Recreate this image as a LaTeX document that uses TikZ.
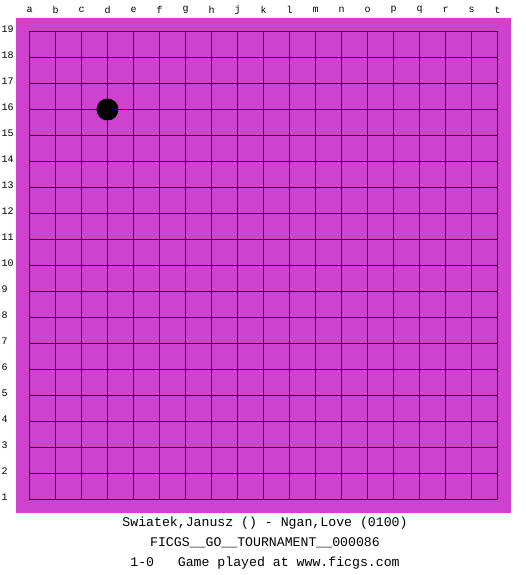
\documentclass[tikz,border=0pt]{standalone}
\usepackage{fontspec}
\setmonofont{Liberation Mono}
\definecolor{board}{RGB}{206,66,206}
\tikzset{
  coord/.style={font=\ttfamily\fontsize{10}{11}\selectfont, inner sep=0pt},
  caption/.style={font=\ttfamily\fontsize{13.2}{14}\selectfont, inner sep=0pt},
  gridline/.style={line width=1.2pt, black},
  stone/.style={circle, fill=black, minimum size=22pt, inner sep=0pt}
}
\begin{document}
\begin{tikzpicture}[x=1pt,y=-1pt]
\useasboundingbox[fill=white] (0,0) rectangle (525,575);
\fill[board] (16,18) rectangle (511,513);
% grid
\foreach \i in {0,...,18} {
  \draw[gridline] (29.5+26*\i,31.5) -- (29.5+26*\i,499.5);
  \draw[gridline] (29.5,31.5+26*\i) -- (497.5,31.5+26*\i);
}
% column letters
\foreach \l [count=\i from 0] in {a,b,c,d,e,f,g,h,j,k,l,m,n,o,p,q,r,s,t}
  \node[coord] (col\l) at (29.5+26*\i,10) {\l};
% row numbers
\foreach \n [count=\i from 0] in {19,18,...,1}
  \node[coord, anchor=west] (row\n) at (1.5,29.5+26*\i) {\n};
% stone at d16
\node[stone] (d16) at (107.5,109.5) {};
% caption
\node[caption] (players) at (265,523) {Swiatek,Janusz () - Ngan,Love (0100)};
\node[caption] (event) at (265,543) {FICGS\_\_GO\_\_TOURNAMENT\_\_000086};
\node[caption] (result) at (265,563) {1-0\ \ \ Game played at www.ficgs.com};
\end{tikzpicture}
\end{document}
